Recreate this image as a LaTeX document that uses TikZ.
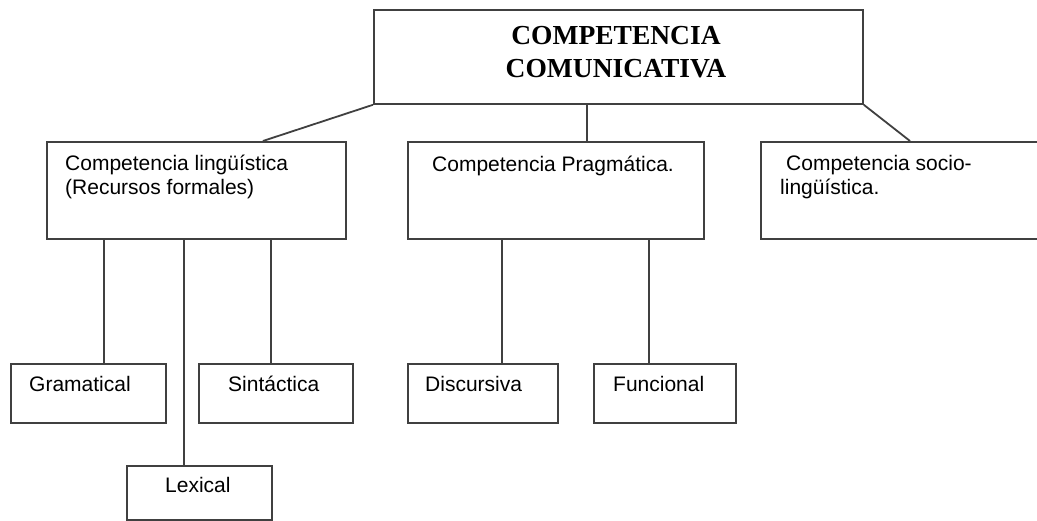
\documentclass[tikz,border=0pt]{standalone}
\usepackage{fontspec}
\setmainfont{Liberation Serif}
\setsansfont{Liberation Sans}
\usetikzlibrary{positioning}

\begin{document}
\begin{tikzpicture}[
  x=1pt, y=-1pt,
  box/.style={draw=black!75, line width=1.8pt, inner sep=0pt, anchor=north west},
  link/.style={draw=black!75, line width=1.8pt},
  txt/.style={font=\fontsize{21}{24}\selectfont\sffamily, inner sep=0pt, align=left, anchor=base west},
  head/.style={font=\fontsize{27.5}{33}\selectfont\rmfamily\bfseries, inner sep=0pt, align=center, anchor=base}
]
  \useasboundingbox (0,0) rectangle (1037,521);

  % top level
  \node[box, minimum width=489pt, minimum height=94pt] (comcom) at (373,9) {};
  \node[head] (comcomtxt) at (616,78) {COMPETENCIA\\COMUNICATIVA};

  % second level
  \node[box, minimum width=299pt, minimum height=97pt] (ling)  at (46,141)  {};
  \node[box, minimum width=296pt, minimum height=97pt] (prag)  at (407,141) {};
  \node[box, minimum width=300pt, minimum height=97pt] (socio) at (760,141) {};
  \node[txt] (lingtxt)  at (65,195)  {Competencia lingüística\\(Recursos formales)};
  \node[txt] (pragtxt)  at (432,172) {Competencia Pragmática.};
  \node[txt] (sociotxt) at (780,195) {\hspace*{6pt}Competencia socio-\\lingüística.};

  % third level
  \node[box, minimum width=155pt, minimum height=59pt] (gram) at (10,363)  {};
  \node[box, minimum width=154pt, minimum height=59pt] (sint) at (198,363) {};
  \node[box, minimum width=145pt, minimum height=54pt] (lex)  at (126,465) {};
  \node[box, minimum width=150pt, minimum height=59pt] (disc) at (407,363) {};
  \node[box, minimum width=142pt, minimum height=59pt] (func) at (593,363) {};
  \node[txt] (gramtxt) at (29,392)  {Gramatical};
  \node[txt] (sinttxt) at (228,392) {Sintáctica};
  \node[txt] (lextxt)  at (165,493) {Lexical};
  \node[txt] (disctxt) at (425,392) {Discursiva};
  \node[txt] (functxt) at (613,392) {Funcional};

  % links from the top box
  \draw[link] (comcom.south west) -- ([xshift=66.5pt]ling.north);
  \draw[link] ([xshift=31pt]prag.north) coordinate (p) -- (p |- comcom.south);
  \draw[link] (comcom.south east) -- ([xshift=150pt]socio.north west);

  % links below the second level
  \draw[link] ([xshift=15.5pt]gram.north) coordinate (g) -- (g |- ling.south);
  \draw[link] ([xshift=-15.5pt]lex.north) coordinate (l) -- (l |- ling.south);
  \draw[link] ([xshift=-5pt]sint.north)   coordinate (s) -- (s |- ling.south);
  \draw[link] ([xshift=19pt]disc.north)   coordinate (d) -- (d |- prag.south);
  \draw[link] ([xshift=-16pt]func.north)  coordinate (f) -- (f |- prag.south);
\end{tikzpicture}
\end{document}
